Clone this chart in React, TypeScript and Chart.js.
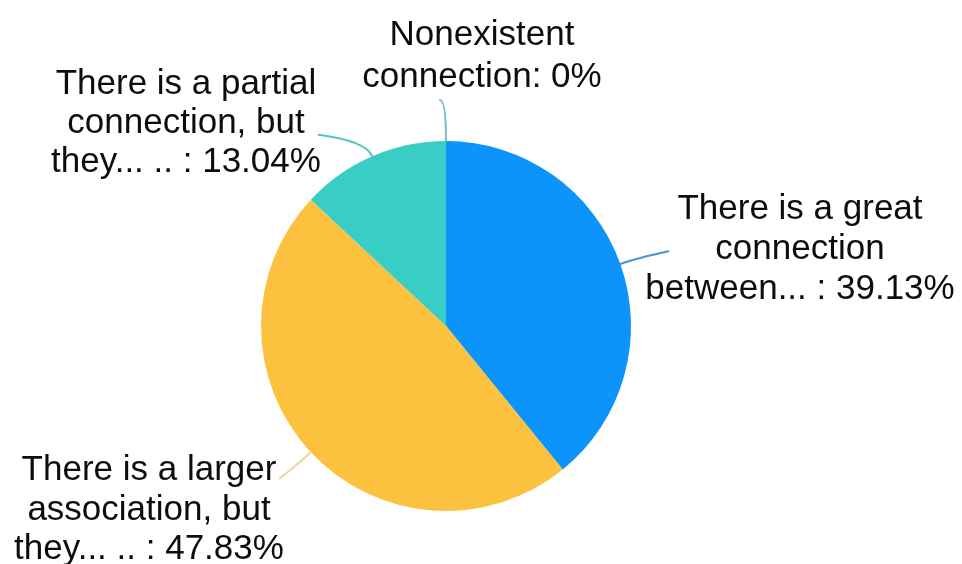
import React, { useEffect, useRef } from "react";
import { Chart, registerables } from "chart.js";

Chart.register(...registerables);

// Answer categories (line breaks mark where each caption wraps)
const categories: string[] = [
  "There is a great\nconnection\nbetween... ",
  "There is a larger\nassociation, but\nthey... .. ",
  "There is a partial\nconnection, but\nthey... .. ",
  "Nonexistent\nconnection",
];

// Share of responses, in percent
const shares: number[] = [39.13, 47.83, 13.04, 0];

const sliceColors: string[] = ["#0C94FA", "#FCC13E", "#38CEC6", "#5FC4C4"];
const leaderColors: string[] = ["#4C93CB", "#EDD797", "#52C6BF", "#72BEC2"];

// Caption placement: text centre x, first baseline y, line height,
// and the leader line shape (radial elbow length, end offset from elbow)
const captionLayout = [
  { cx: 800, y: 219, lh: 40, elbow: 17, dx: 32, dy: -7 },
  { cx: 149, y: 480, lh: 39.5, elbow: 15, dx: -20, dy: 16 },
  { cx: 186, y: 94, lh: 39, elbow: 17, dx: -47, dy: -6 },
  { cx: 482, y: 45, lh: 42, elbow: 41, dx: -6, dy: 0 },
];

const captionPlugin = {
  id: "captions",
  afterDraw(chart: any) {
    const ctx: CanvasRenderingContext2D = chart.ctx;
    const meta = chart.getDatasetMeta(0);
    meta.data.forEach((arc: any, i: number) => {
      const { x, y, outerRadius, startAngle, endAngle } = arc.getProps(
        ["x", "y", "outerRadius", "startAngle", "endAngle"],
        true
      );
      const mid = (startAngle + endAngle) / 2;
      const lay = captionLayout[i];
      const sx = x + Math.cos(mid) * outerRadius;
      const sy = y + Math.sin(mid) * outerRadius;
      const ex = x + Math.cos(mid) * (outerRadius + lay.elbow);
      const ey = y + Math.sin(mid) * (outerRadius + lay.elbow);

      ctx.save();
      ctx.strokeStyle = leaderColors[i];
      ctx.lineWidth = 2;
      ctx.lineCap = "round";
      ctx.beginPath();
      ctx.moveTo(sx, sy);
      ctx.quadraticCurveTo(ex, ey, ex + lay.dx, ey + lay.dy);
      ctx.stroke();
      ctx.restore();

      const text = categories[i] + ": " + String(shares[i]) + "%";
      const lines = text.split("\n");
      ctx.save();
      ctx.fillStyle = "#0d0d0d";
      ctx.font = '35px "Liberation Sans", Arial, Helvetica, sans-serif';
      ctx.textAlign = "center";
      ctx.textBaseline = "alphabetic";
      lines.forEach((ln, k) => {
        ctx.fillText(ln, lay.cx, lay.y + k * lay.lh);
      });
      ctx.restore();
    });
  },
};

export default function App() {
  const canvasRef = useRef<HTMLCanvasElement | null>(null);

  useEffect(() => {
    if (!canvasRef.current) return;
    const chart = new Chart(canvasRef.current, {
      type: "pie",
      data: {
        labels: categories.map((c) => c.replace(/\n/g, " ")),
        datasets: [
          {
            data: shares,
            backgroundColor: sliceColors,
            borderWidth: 0,
            hoverOffset: 0,
            offset: 0,
          },
        ],
      },
      options: {
        responsive: false,
        animation: false,
        events: [],
        layout: { padding: { left: 261, right: 331, top: 141, bottom: 53 } },
        plugins: {
          legend: { display: false },
          tooltip: { enabled: false },
        },
      },
      plugins: [captionPlugin],
    });
    return () => chart.destroy();
  }, []);

  return (
    <div style={{ position: "absolute", left: 0, top: 0, width: 962, height: 564, background: "#ffffff" }}>
      <canvas ref={canvasRef} width={962} height={564} />
    </div>
  );
}
